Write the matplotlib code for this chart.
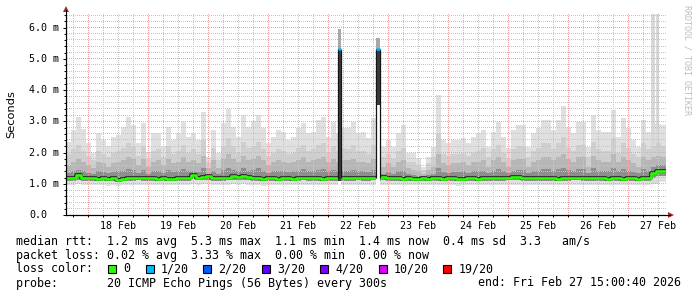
import numpy as np
import pandas as pd
import matplotlib
matplotlib.use("Agg")
import matplotlib.pyplot as plt
import matplotlib.dates as mdates
from matplotlib.patches import Rectangle, Polygon
from matplotlib.lines import Line2D
from matplotlib.colors import to_rgba
from matplotlib.transforms import blended_transform_factory

# ---------------- data ----------------
start = "2026-02-17 15:00"
end_time = "2026-02-27 15:00:40"
step = "2h"

# smoke envelope (ms): top ping, upper quantiles, median, lower quantiles
max_ms = [2.35, 2.72, 3.15, 2.75, 2.30, 1.97, 2.61, 2.40, 2.20, 2.50,
          2.56, 2.83, 3.15, 2.88, 2.29, 2.93, 2.03, 2.61, 2.61, 2.20,
          2.83, 2.40, 2.61, 2.98, 2.50, 2.61, 2.40, 3.30, 1.87, 2.72,
          1.97, 2.93, 3.40, 2.83, 2.50, 3.20, 2.83, 3.00, 3.20, 2.77,
          2.29, 2.51, 2.72, 2.67, 2.40, 2.51, 2.77, 2.93, 2.61, 2.67,
          3.04, 3.15, 2.51, 2.99, 2.61, 2.77, 2.77, 2.99, 2.61, 2.67,
          2.45, 3.09, 2.19, 2.19, 2.40, 2.19, 2.61, 2.88, 1.97, 1.97,
          1.81, 1.55, 1.87, 2.19, 3.84, 2.40, 2.29, 2.40, 2.40, 2.45,
          2.29, 2.51, 2.61, 2.72, 2.19, 2.67, 2.99, 2.51, 2.13, 2.72,
          2.88, 2.88, 2.19, 2.61, 2.77, 3.04, 3.04, 2.72, 3.04, 3.49,
          2.83, 2.61, 2.99, 2.99, 2.19, 3.20, 2.72, 2.67, 2.67, 3.36,
          2.51, 3.09, 2.77, 2.40, 2.19, 3.04, 2.67, 2.90, 2.90, 2.88]

hi_ms = [1.95, 2.10, 2.25, 2.05, 1.90, 1.75, 2.05, 1.95, 1.85, 2.00,
         2.05, 2.15, 2.30, 2.20, 1.90, 2.20, 1.80, 2.05, 2.10, 1.85,
         2.20, 1.95, 2.05, 2.25, 2.00, 2.10, 1.95, 2.40, 1.70, 2.15,
         1.75, 2.20, 2.45, 2.20, 2.00, 2.35, 2.15, 2.20, 2.35, 2.10,
         1.90, 2.00, 2.10, 2.05, 1.95, 2.00, 2.15, 2.25, 2.05, 2.10,
         2.25, 2.30, 2.00, 2.20, 2.05, 2.15, 2.10, 2.25, 2.05, 2.05,
         1.95, 2.25, 1.85, 1.85, 1.95, 1.80, 2.05, 2.15, 1.70, 1.70,
         1.60, 1.45, 1.65, 1.85, 2.60, 1.95, 1.90, 1.95, 1.95, 2.00,
         1.90, 2.00, 2.05, 2.15, 1.85, 2.10, 2.25, 2.00, 1.80, 2.10,
         2.20, 2.20, 1.85, 2.05, 2.15, 2.30, 2.30, 2.10, 2.30, 2.50,
         2.15, 2.05, 2.25, 2.25, 1.85, 2.35, 2.10, 2.05, 2.05, 2.45,
         2.00, 2.30, 2.15, 1.95, 1.85, 2.30, 2.10, 2.20, 2.30, 2.20]

mid_ms = [1.60, 1.70, 1.80, 1.70, 1.60, 1.50, 1.70, 1.65, 1.55, 1.65,
          1.70, 1.75, 1.85, 1.80, 1.60, 1.80, 1.55, 1.70, 1.75, 1.60,
          1.80, 1.65, 1.70, 1.85, 1.70, 1.75, 1.65, 1.90, 1.50, 1.75,
          1.50, 1.80, 1.95, 1.80, 1.70, 1.90, 1.75, 1.80, 1.90, 1.75,
          1.60, 1.70, 1.75, 1.70, 1.65, 1.70, 1.75, 1.85, 1.70, 1.75,
          1.80, 1.85, 1.70, 1.80, 1.70, 1.75, 1.75, 1.80, 1.70, 1.70,
          1.65, 1.80, 1.55, 1.55, 1.65, 1.55, 1.70, 1.75, 1.50, 1.45,
          1.40, 1.32, 1.45, 1.55, 1.95, 1.65, 1.60, 1.65, 1.65, 1.70,
          1.60, 1.70, 1.70, 1.75, 1.55, 1.75, 1.85, 1.70, 1.55, 1.75,
          1.80, 1.80, 1.55, 1.70, 1.75, 1.85, 1.85, 1.75, 1.85, 1.95,
          1.80, 1.70, 1.85, 1.85, 1.55, 1.90, 1.75, 1.70, 1.70, 1.95,
          1.70, 1.85, 1.75, 1.65, 1.55, 1.85, 1.75, 1.85, 1.90, 1.85]

near_ms = [1.35, 1.40, 1.45, 1.40, 1.35, 1.30, 1.40, 1.38, 1.33, 1.38,
           1.40, 1.42, 1.48, 1.45, 1.35, 1.45, 1.32, 1.40, 1.42, 1.33,
           1.45, 1.38, 1.40, 1.48, 1.40, 1.42, 1.38, 1.50, 1.30, 1.42,
           1.30, 1.45, 1.52, 1.45, 1.40, 1.50, 1.42, 1.45, 1.50, 1.42,
           1.35, 1.40, 1.42, 1.40, 1.38, 1.40, 1.42, 1.48, 1.40, 1.42,
           1.45, 1.48, 1.40, 1.45, 1.40, 1.42, 1.42, 1.45, 1.40, 1.40,
           1.38, 1.45, 1.32, 1.32, 1.38, 1.32, 1.40, 1.42, 1.30, 1.28,
           1.26, 1.24, 1.28, 1.32, 1.52, 1.38, 1.35, 1.38, 1.38, 1.40,
           1.35, 1.40, 1.40, 1.42, 1.33, 1.42, 1.48, 1.40, 1.33, 1.42,
           1.45, 1.45, 1.33, 1.40, 1.42, 1.48, 1.48, 1.42, 1.48, 1.52,
           1.45, 1.40, 1.48, 1.48, 1.33, 1.50, 1.42, 1.40, 1.40, 1.52,
           1.40, 1.48, 1.42, 1.38, 1.33, 1.48, 1.42, 1.55, 1.60, 1.60]

median_ms = [1.20, 1.17, 1.28, 1.18, 1.20, 1.19, 1.16, 1.17, 1.15, 1.18,
             1.13, 1.16, 1.18, 1.17, 1.20, 1.19, 1.18, 1.17, 1.16, 1.17,
             1.16, 1.16, 1.17, 1.17, 1.17, 1.28, 1.20, 1.22, 1.25, 1.18,
             1.18, 1.19, 1.20, 1.24, 1.21, 1.25, 1.23, 1.18, 1.17, 1.15,
             1.17, 1.18, 1.16, 1.17, 1.18, 1.16, 1.18, 1.20, 1.18, 1.17,
             1.17, 1.16, 1.18, 1.17, 1.17, 1.19, 1.18, 1.17, 1.20, 1.18,
             1.18, 1.20, 1.18, 1.21, 1.18, 1.17, 1.18, 1.16, 1.17, 1.16,
             1.16, 1.17, 1.16, 1.17, 1.17, 1.16, 1.17, 1.17, 1.15, 1.16,
             1.18, 1.18, 1.16, 1.17, 1.17, 1.18, 1.17, 1.17, 1.20, 1.22,
             1.21, 1.19, 1.19, 1.17, 1.17, 1.18, 1.17, 1.17, 1.16, 1.18,
             1.18, 1.20, 1.20, 1.18, 1.19, 1.18, 1.17, 1.17, 1.16, 1.17,
             1.17, 1.16, 1.17, 1.17, 1.16, 1.17, 1.19, 1.33, 1.40, 1.41]

low_ms = [1.10, 1.09, 1.12, 1.10, 1.10, 1.10, 1.09, 1.09, 1.08, 1.10,
          1.07, 1.09, 1.10, 1.09, 1.11, 1.10, 1.10, 1.09, 1.09, 1.09,
          1.09, 1.09, 1.09, 1.09, 1.09, 1.14, 1.11, 1.12, 1.13, 1.10,
          1.10, 1.10, 1.11, 1.13, 1.11, 1.13, 1.12, 1.10, 1.09, 1.08,
          1.09, 1.10, 1.09, 1.09, 1.10, 1.09, 1.10, 1.11, 1.10, 1.09,
          1.09, 1.09, 1.10, 1.09, 1.09, 1.10, 1.10, 1.09, 1.11, 1.10,
          1.10, 1.11, 1.10, 1.12, 1.10, 1.09, 1.10, 1.09, 1.09, 1.09,
          1.09, 1.09, 1.09, 1.09, 1.09, 1.09, 1.09, 1.09, 1.08, 1.09,
          1.10, 1.10, 1.09, 1.09, 1.09, 1.10, 1.09, 1.09, 1.11, 1.12,
          1.12, 1.10, 1.10, 1.09, 1.09, 1.10, 1.09, 1.09, 1.09, 1.10,
          1.10, 1.11, 1.11, 1.10, 1.10, 1.10, 1.09, 1.09, 1.09, 1.09,
          1.09, 1.09, 1.09, 1.09, 1.09, 1.09, 1.10, 1.18, 1.24, 1.25]

min_ms = [0.97, 0.96, 0.99, 0.97, 0.97, 0.96, 0.95, 0.96, 0.94, 0.96,
          0.93, 0.95, 0.96, 0.96, 0.97, 0.96, 0.96, 0.95, 0.95, 0.96,
          0.95, 0.95, 0.96, 0.96, 0.96, 0.99, 0.97, 0.98, 0.98, 0.96,
          0.96, 0.96, 0.97, 0.98, 0.97, 0.98, 0.97, 0.96, 0.96, 0.94,
          0.95, 0.96, 0.95, 0.95, 0.96, 0.95, 0.96, 0.97, 0.96, 0.95,
          0.95, 0.95, 0.96, 0.95, 0.95, 0.96, 0.96, 0.95, 0.97, 0.96,
          0.96, 0.97, 0.96, 0.97, 0.96, 0.95, 0.96, 0.95, 0.95, 0.95,
          0.95, 0.95, 0.95, 0.95, 0.95, 0.95, 0.95, 0.95, 0.94, 0.95,
          0.96, 0.96, 0.95, 0.95, 0.95, 0.96, 0.95, 0.95, 0.97, 0.97,
          0.97, 0.96, 0.96, 0.95, 0.95, 0.96, 0.95, 0.95, 0.95, 0.96,
          0.96, 0.97, 0.97, 0.96, 0.96, 0.96, 0.95, 0.95, 0.95, 0.95,
          0.95, 0.95, 0.95, 0.95, 0.95, 0.95, 0.96, 1.03, 1.06, 1.07]

# short outlier samples (median with 1/20 loss)
spike_start = ["2026-02-22 04:00", "2026-02-22 19:05"]
spike_end = ["2026-02-22 05:10", "2026-02-22 20:25"]
spike_min = [1.10, 3.52]
spike_median = [5.32, 5.31]
spike_max = [5.96, 5.66]

# off-scale single outliers near the end
tall_start = ["2026-02-27 09:10", "2026-02-27 11:10"]
tall_end = ["2026-02-27 10:25", "2026-02-27 12:20"]
tall_max = [7.0, 7.0]

y_ticks = [0, 1, 2, 3, 4, 5, 6]
y_tick_labels = ["0.0", "1.0 m", "2.0 m", "3.0 m", "4.0 m", "5.0 m", "6.0 m"]
day_labels = ["18 Feb", "19 Feb", "20 Feb", "21 Feb", "22 Feb",
              "23 Feb", "24 Feb", "25 Feb", "26 Feb", "27 Feb"]

loss_labels = ["0", "1/20", "2/20", "3/20", "4/20", "10/20", "19/20"]
loss_colors = ["#26ff00", "#00b8ff", "#0059ff", "#5e00ff", "#7e00ff", "#dd00ff", "#ff0000"]

legend_rows = [
    "median rtt:  1.2 ms avg  5.3 ms max  1.1 ms min  1.4 ms now  0.4 ms sd  3.3   am/s",
    "packet loss: 0.02 % avg  3.33 % max  0.00 % min  0.00 % now",
    "loss color:",
    "probe:       20 ICMP Echo Pings (56 Bytes) every 300s",
]
end_text = "end: Fri Feb 27 15:00:40 2026"

# ---------------- figure ----------------
W, H = 697, 297
AX_W, AX_H = 600, 201
def fx(x):
    return x / W
def fy(y):
    return 1 - y / H

fig = plt.figure(figsize=(W / 100, H / 100), dpi=100)
fig.patch.set_facecolor("white")
ax = fig.add_axes([fx(66), fy(215), AX_W / W, AX_H / H])
ax.set_facecolor("white")

times = pd.date_range(start, periods=len(max_ms), freq=step)
t_edges = mdates.date2num(list(times.to_pydatetime()) + [(times[-1] + pd.Timedelta(step)).to_pydatetime()])
x0 = mdates.date2num(pd.Timestamp(start).to_pydatetime())
x1 = mdates.date2num(pd.Timestamp(end_time).to_pydatetime())
ymax = AX_H / 31.25
ax.set_xlim(x0, x1)
ax.set_ylim(0, ymax)

def ext(a):
    a = list(a)
    return np.array(a + [a[-1]])

mx, hi, mi, ne = ext(max_ms), ext(hi_ms), ext(mid_ms), ext(near_ms)
md, lo, mn = ext(median_ms), ext(low_ms), ext(min_ms)

ax.fill_between(t_edges, mn, mx, step="post", color="#e0e0e0", lw=0, zorder=1)
for s, e, top in zip(tall_start, tall_end, tall_max):
    ts = mdates.date2num(pd.Timestamp(s).to_pydatetime())
    te = mdates.date2num(pd.Timestamp(e).to_pydatetime())
    ax.fill_between([ts, te], [1.0, 1.0], [top, top], color="#d8d8d8", lw=0, zorder=1.5)
ax.fill_between(t_edges, lo, hi, step="post", color="#cfcfcf", lw=0, zorder=2)
ax.fill_between(t_edges, lo, mi, step="post", color="#b6b6b6", lw=0, zorder=2.1)
ax.fill_between(t_edges, lo, ne, step="post", color="#8e8e8e", lw=0, zorder=2.2)

# pixel-exact dotted grid as an overlay image (on top of smoke)
minor_c = np.array(to_rgba("#c4c4c4"))
major_c = np.array(to_rgba("#eba4a4"))
grid_img = np.zeros((AX_H, AX_W, 4))
def row_of(v):
    return int(np.floor((ymax - v) / ymax * AX_H))
def col_of(t):
    return int(np.floor((t - x0) / (x1 - x0) * AX_W))
for k in range(1, 33):
    v = k * 0.2
    r = row_of(v)
    if 0 <= r < AX_H:
        c = major_c if k % 5 == 0 else minor_c
        grid_img[r, 1::2] = c
six = pd.date_range("2026-02-17 18:00", end_time, freq="6h")
for t in six:
    c_ = col_of(mdates.date2num(t.to_pydatetime()))
    if 0 <= c_ < AX_W:
        c = major_c if t.hour == 0 else minor_c
        grid_img[0::2, c_] = c
ax.imshow(grid_img, extent=(x0, x1, 0, ymax), aspect="auto",
          interpolation="none", zorder=3, origin="upper")

# median line
ax.step(t_edges, md, where="post", color="#202020", lw=2.6, zorder=4)
ax.step(t_edges, md, where="post", color=loss_colors[0], lw=1.9, zorder=4.1)

# spikes
for s, e, smin, smed, smax in zip(spike_start, spike_end, spike_min, spike_median, spike_max):
    ts = mdates.date2num(pd.Timestamp(s).to_pydatetime())
    te = mdates.date2num(pd.Timestamp(e).to_pydatetime())
    idx = int(np.searchsorted(t_edges, ts, side="right") - 1)
    base = median_ms[idx]
    ax.fill_between([ts, te], [0.9, 0.9], [smax, smax], color="white", lw=0, zorder=5)
    ax.fill_between([ts, te], [smed, smed], [smax, smax], color="#a8a8a8", lw=0, zorder=5.1)
    ax.fill_between([ts, te], [smin, smin], [smed, smed], color="#3c3c3c", lw=0, zorder=5.1)
    ax.vlines([ts, te], base, smed, color="#151515", lw=0.9, zorder=5.2)
    ax.hlines(smed, ts, te, color=loss_colors[1], lw=1.8, zorder=5.3)

ax.set_xlim(x0, x1)
ax.set_ylim(0, ymax)

# axes styling
for sp in ["top", "right"]:
    ax.spines[sp].set_visible(False)
for sp in ["left", "bottom"]:
    ax.spines[sp].set_color("black")
    ax.spines[sp].set_linewidth(0.8)
    ax.spines[sp].set_zorder(6)

noon = pd.date_range("2026-02-18 12:00", periods=len(day_labels), freq="D")
ax.set_xticks(mdates.date2num(list(noon.to_pydatetime())))
ax.set_xticklabels(day_labels, family="DejaVu Sans Mono", fontsize=7.2)
ax.xaxis.remove_overlapping_locs = False
ax.set_xticks(mdates.date2num(list(six.to_pydatetime())), minor=True)
ax.tick_params(axis="x", which="major", length=0, pad=4.5)
ax.tick_params(axis="x", which="minor", length=1.6, width=0.7, direction="out")
ax.set_yticks([k * 0.2 for k in range(0, 33)], minor=True)
ax.set_yticks(y_ticks)
ax.set_yticklabels([])
ax.tick_params(axis="y", which="major", length=2.2, width=0.7, direction="out")
ax.tick_params(axis="y", which="minor", length=1.4, width=0.7, direction="out")

btf = blended_transform_factory(fig.transFigure, ax.transData)
for v, lab in zip(y_ticks, y_tick_labels):
    ax.text(fx(29), v, lab, transform=btf, ha="left", va="center",
            family="DejaVu Sans Mono", fontsize=7.2, color="black")

# axis arrows
arrow_c = "#a52a2a"
fig.add_artist(Line2D([fx(66), fx(66)], [fy(215), fy(10)], color="black", lw=0.8))
fig.add_artist(Polygon([[fx(63), fy(12)], [fx(69), fy(12)], [fx(66), fy(6)]],
                       closed=True, color=arrow_c, lw=0))
fig.add_artist(Line2D([fx(66), fx(670)], [fy(215), fy(215)], color="black", lw=0.8))
fig.add_artist(Polygon([[fx(668), fy(212)], [fx(668), fy(218)], [fx(674), fy(215)]],
                       closed=True, color=arrow_c, lw=0))

# y label & watermark
fig.text(fx(11), fy(114), "Seconds", rotation=90, ha="center", va="center",
         family="DejaVu Sans", fontsize=8.2, color="black")
fig.text(fx(687), fy(5), "RRDTOOL / TOBI OETIKER", rotation=270, ha="center", va="top",
         family="DejaVu Sans Mono", fontsize=6.0, color="#bdbdbd")

# legend
mono = dict(family="DejaVu Sans Mono", fontsize=8.4, color="black", ha="left", va="center")
row_y = [241, 255, 269, 283]
for txt, yy in zip(legend_rows, row_y):
    fig.text(fx(16), fy(yy), txt, **mono)
fig.text(fx(478), fy(283), end_text, **mono)

box_x = [108, 145.5, 203, 262, 320, 378.5, 443]
for bx, lab, col in zip(box_x, loss_labels, loss_colors):
    fig.add_artist(Rectangle((fx(bx), fy(273)), 8 / W, 8 / H, transform=fig.transFigure,
                             facecolor=col, edgecolor="black", lw=0.8))
    fig.text(fx(bx + 15.5), fy(269), lab, **mono)

fig.savefig("out.png", dpi=100, facecolor="white")
